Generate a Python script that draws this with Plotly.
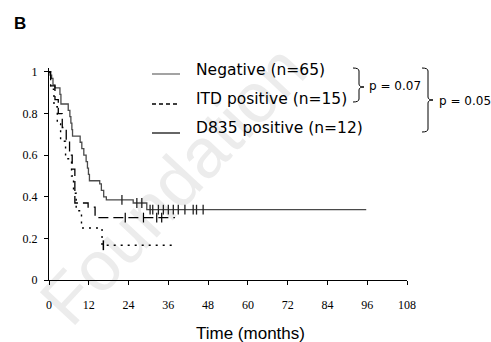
import plotly.graph_objects as go

# ---------------- data ----------------
neg_t = [0, 0.3, 0.8, 1.2, 1.8, 3.3, 3.6, 5.8, 6.3, 6.6, 6.9, 7.1, 9.4, 9.9, 10.5, 11.2, 11.6, 11.9, 12.2,
         15.3, 15.8, 16.5, 17.3, 25.4, 29.5, 95.7]
neg_s = [1.0, 0.985, 0.969, 0.938, 0.923, 0.892, 0.846, 0.815, 0.785, 0.754, 0.723, 0.692, 0.662, 0.631,
         0.600, 0.569, 0.538, 0.508, 0.477, 0.462, 0.431, 0.400, 0.385, 0.370, 0.338, 0.338]
neg_cens_t = [22, 26.5, 28, 30.5, 31.3, 33, 34.5, 36, 37.5, 39, 41, 43.5, 44.5, 46.5]
neg_cens_s = [0.385, 0.370, 0.370, 0.338, 0.338, 0.338, 0.338, 0.338, 0.338, 0.338, 0.338, 0.338, 0.338, 0.338]

itd_t = [0, 0.5, 1.8, 2.8, 4.0, 5.2, 6.2, 7.0, 7.8, 11.8, 13.9, 38]
itd_s = [1.0, 0.933, 0.867, 0.80, 0.733, 0.667, 0.60, 0.533, 0.37, 0.35, 0.30, 0.30]
itd_cens_t = [23, 28.5, 32.5, 34]
itd_cens_s = [0.30, 0.30, 0.30, 0.30]

d835_t = [0, 0.5, 1.5, 2.5, 3.5, 5.0, 6.8, 7.4, 8.2, 9.8, 16.0, 37.5]
d835_s = [1.0, 0.917, 0.833, 0.75, 0.667, 0.583, 0.5, 0.417, 0.333, 0.25, 0.167, 0.167]
d835_cens_t = [16.4]
d835_cens_s = [0.167]

x_ticks = [0, 12, 24, 36, 48, 60, 72, 84, 96, 108]
y_ticks = [0, 0.2, 0.4, 0.6, 0.8, 1]

legend_labels = ["Negative (n=65)", "ITD positive (n=15)", "D835 positive (n=12)"]
p_labels = ["p = 0.07", "p = 0.05"]

# ---------------- geometry helpers (pixel -> paper) ----------------
W, H = 491, 342
L, R, T, B = 49, 84, 68, 62
PW, PH = W - L - R, H - T - B


def px(x):
    return (x - L) / PW


def py(y):
    return (H - B - y) / PH


fig = go.Figure()

fig.add_trace(go.Scatter(x=neg_t, y=neg_s, mode="lines", line=dict(shape="hv", color="#4a4a4a", width=1.3),
                         showlegend=False))
fig.add_trace(go.Scatter(x=neg_cens_t, y=neg_cens_s, mode="markers",
                         marker=dict(symbol="line-ns", size=7, line=dict(color="#222", width=1.3)),
                         showlegend=False))
fig.add_trace(go.Scatter(x=itd_t, y=itd_s, mode="lines",
                         line=dict(shape="hv", color="black", width=1.3, dash="10px,5px"), showlegend=False))
fig.add_trace(go.Scatter(x=itd_cens_t, y=itd_cens_s, mode="markers",
                         marker=dict(symbol="line-ns", size=7, line=dict(color="black", width=1.2)),
                         showlegend=False))
fig.add_trace(go.Scatter(x=d835_t, y=d835_s, mode="lines",
                         line=dict(shape="hv", color="black", width=1.4, dash="2px,5px"), showlegend=False))
fig.add_trace(go.Scatter(x=d835_cens_t, y=d835_cens_s, mode="markers",
                         marker=dict(symbol="line-ns", size=7, line=dict(color="black", width=1.5)),
                         showlegend=False))

shapes = []
annotations = []

# watermark (below traces)
shapes.append(dict(type="rect", xref="paper", yref="paper", x0=px(118), x1=px(218), y0=py(230), y1=py(130),
                   line=dict(width=0), layer="below",
                   label=dict(text="Foundation", textangle=-47, textposition="middle center",
                              font=dict(family="Liberation Sans, Arial", size=70, color="#ececec"))))

# legend samples
leg_line_y = [74, 104, 133]
leg_text_y = [70, 99, 128]
leg_styles = [dict(color="#666", width=1.2), dict(color="black", width=1.4, dash="4px,3px"),
              dict(color="black", width=1.2)]
for i, lab in enumerate(legend_labels):
    shapes.append(dict(type="line", xref="paper", yref="paper", x0=px(152), x1=px(180),
                       y0=py(leg_line_y[i]), y1=py(leg_line_y[i]), line=leg_styles[i]))
    annotations.append(dict(text=lab, xref="paper", yref="paper", x=px(194), y=py(leg_text_y[i]),
                            xanchor="left", yanchor="middle", showarrow=False,
                            font=dict(family="DejaVu Sans", size=15.5, color="black")))


def brace(x0, xm, xt, ytop, ytip, ybot):
    pts = [
        f"M {px(x0)},{py(ytop)}",
        f"Q {px(xm)},{py(ytop)} {px(xm)},{py(ytop + 3)}",
        f"L {px(xm)},{py(ytip - 3)}",
        f"Q {px(xm)},{py(ytip)} {px(xt)},{py(ytip)}",
        f"Q {px(xm)},{py(ytip)} {px(xm)},{py(ytip + 3)}",
        f"L {px(xm)},{py(ybot - 3)}",
        f"Q {px(xm)},{py(ybot)} {px(x0)},{py(ybot)}",
    ]
    return dict(type="path", xref="paper", yref="paper", path=" ".join(pts),
                line=dict(color="black", width=1))


shapes.append(brace(353, 359, 364, 68, 87, 102))
shapes.append(brace(422, 428, 433, 68, 100, 132))
annotations.append(dict(text=p_labels[0], xref="paper", yref="paper", x=px(367), y=py(86), xanchor="left",
                        yanchor="middle", showarrow=False, font=dict(family="DejaVu Sans", size=12, color="black")))
annotations.append(dict(text=p_labels[1], xref="paper", yref="paper", x=px(437), y=py(101), xanchor="left",
                        yanchor="middle", showarrow=False, font=dict(family="DejaVu Sans", size=12, color="black")))

# panel letter and axis title
annotations.append(dict(text="<b>B</b>", xref="paper", yref="paper", x=px(12), y=py(23), xanchor="left",
                        yanchor="middle", showarrow=False,
                        font=dict(family="Liberation Sans, Arial", size=17, color="black")))
annotations.append(dict(text="Time (months)", xref="paper", yref="paper", x=px(250), y=py(333),
                        xanchor="center", yanchor="middle", showarrow=False,
                        font=dict(family="Liberation Sans, Arial", size=17, color="black")))

fig.update_layout(
    width=W, height=H,
    margin=dict(l=L, r=R, t=T, b=B),
    paper_bgcolor="white", plot_bgcolor="white",
    shapes=shapes, annotations=annotations,
    showlegend=False,
    xaxis=dict(range=[0, 108], tickvals=x_ticks, ticktext=[str(v) for v in x_ticks],
               showline=True, linecolor="black", linewidth=1, ticks="outside", ticklen=4, tickcolor="black",
               showgrid=False, zeroline=False, ticklabelstandoff=10,
               tickfont=dict(family="Liberation Serif", size=12, color="black")),
    yaxis=dict(range=[0, 1.019], tickvals=y_ticks, ticktext=[f"{v:g}" for v in y_ticks],
               showline=True, linecolor="black", linewidth=1, ticks="outside", ticklen=4, tickcolor="black",
               showgrid=False, zeroline=False, ticklabelstandoff=4,
               tickfont=dict(family="Liberation Serif", size=12, color="black")),
)

fig.write_html("out.html", config={"displayModeBar": False},
               post_script="document.body.style.margin='0';")
